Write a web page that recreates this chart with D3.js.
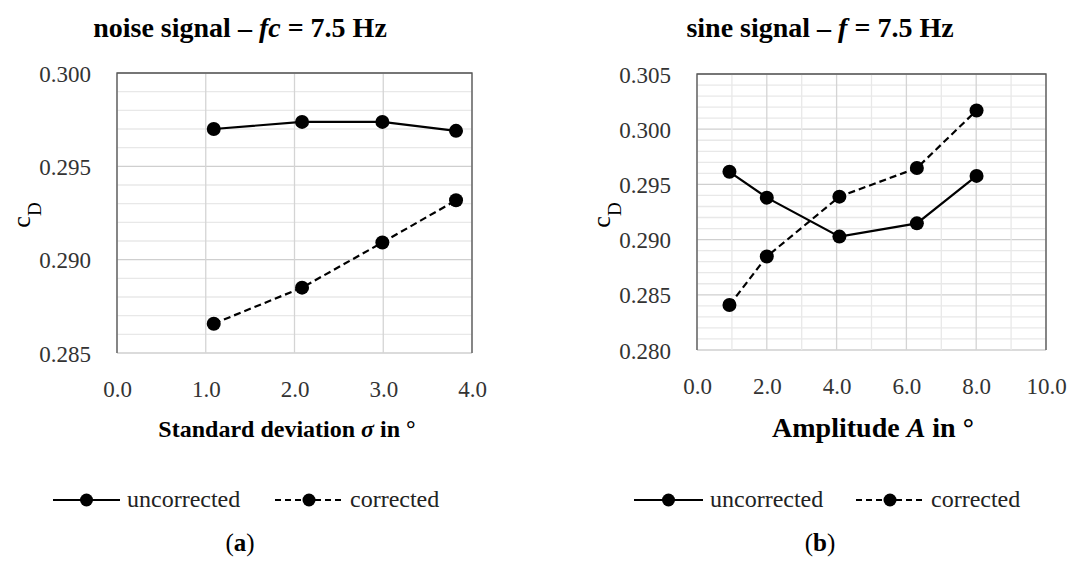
<!DOCTYPE html>
<html><head><meta charset="utf-8">
<script src="https://cdn.jsdelivr.net/npm/d3@7"></script>
<style>body{margin:0;background:#fff} svg{display:block}</style>
</head><body><svg id="c" width="1073" height="571"></svg>
<script>
// ---- data ----
const noiseSigma = [1.09, 2.085, 2.99, 3.82];
const noiseUncorrected = [0.29700, 0.29738, 0.29738, 0.29690];
const noiseCorrected = [0.28657, 0.28850, 0.29092, 0.29318];
const sineAmplitude = [0.93, 2.0, 4.08, 6.30, 8.01];
const sineUncorrected = [0.29614, 0.29380, 0.29027, 0.29147, 0.29577];
const sineCorrected = [0.28407, 0.28847, 0.29389, 0.29648, 0.30170];
const noiseXTicks = [0, 1, 2, 3, 4];
const noiseYTicks = [0.285, 0.290, 0.295, 0.300];
const sineXTicks = [0, 2, 4, 6, 8, 10];
const sineYTicks = [0.280, 0.285, 0.290, 0.295, 0.300, 0.305];
const seriesNames = ["uncorrected", "corrected"];
const panelLabels = ["a", "b"];

const FONT = '"Liberation Serif", "Times New Roman", serif';
const svg = d3.select("#c");

function addRich(sel, parts) {
  parts.forEach(p => {
    const t = sel.append("tspan").text(p[0]);
    if (p[1]) t.attr("font-style", "italic");
    if (p[2]) t.attr("baseline-shift", p[2]).attr("font-size", p[3]);
  });
}

function panel(cfg) {
  const x = d3.scaleLinear().domain(cfg.xDomain).range([cfg.x0, cfg.x1]);
  const y = d3.scaleLinear().domain(cfg.yDomain).range([cfg.y1, cfg.y0]);
  const g = svg.append("g");

  // horizontal grid (every 0.001, major every 0.005)
  const yMinor = d3.range(Math.round(cfg.yDomain[0] * 1000), Math.round(cfg.yDomain[1] * 1000) + 1).map(v => v / 1000);
  g.selectAll(".hmin").data(yMinor).join("line")
    .attr("x1", cfg.x0).attr("x2", cfg.x1)
    .attr("y1", d => y(d)).attr("y2", d => y(d))
    .attr("stroke", d => (Math.round(d * 1000) % 5 === 0) ? "#cfcfcf" : "#e8e8e8")
    .attr("stroke-width", 1.3);
  // vertical grid
  const xGrid = d3.range(cfg.xDomain[0], cfg.xDomain[1] + 0.001, cfg.xMinorStep);
  g.selectAll(".vg").data(xGrid).join("line")
    .attr("x1", d => x(d)).attr("x2", d => x(d))
    .attr("y1", cfg.y0).attr("y2", cfg.y1)
    .attr("stroke", d => (Math.abs(d / cfg.xMajorStep - Math.round(d / cfg.xMajorStep)) < 1e-6) ? "#d4d4d4" : "#e8e8e8")
    .attr("stroke-width", 1.3);
  // border
  g.append("path")
    .attr("d", `M${cfg.x0},${cfg.y1}V${cfg.y0}H${cfg.x1}V${cfg.y1}`)
    .attr("fill", "none").attr("stroke", "#555").attr("stroke-width", 1.3);

  // axes (labels only)
  const ax = g.append("g").attr("transform", `translate(0,${cfg.y1 + 44})`)
    .call(d3.axisBottom(x).tickValues(cfg.xTicks).tickSize(0).tickPadding(0).tickFormat(d3.format(".1f")));
  ax.select(".domain").remove();
  ax.selectAll("text").attr("font-size", 23).attr("fill", "#333").attr("dy", "0").style("font-family", FONT);
  const ay = g.append("g").attr("transform", `translate(${cfg.x0 - 26},0)`)
    .call(d3.axisLeft(y).tickValues(cfg.yTicks).tickSize(0).tickPadding(0).tickFormat(d3.format(".3f")));
  ay.select(".domain").remove();
  ay.selectAll("text").attr("font-size", 23).attr("fill", "#333").attr("dy", "0.35em").style("font-family", FONT);

  // lines and markers
  const line = d3.line().x(d => x(d[0])).y(d => y(d[1]));
  cfg.series.forEach((s, i) => {
    const pts = cfg.xs.map((v, k) => [v, s[k]]);
    g.append("path").datum(pts).attr("d", line).attr("fill", "none")
      .attr("stroke", "#000").attr("stroke-width", 2.2)
      .attr("stroke-dasharray", i === 1 ? "7,4" : null);
    g.selectAll(".m" + i).data(pts).join("circle")
      .attr("cx", d => x(d[0])).attr("cy", d => y(d[1])).attr("r", 7).attr("fill", "#000");
  });

  // chart title
  const t = svg.append("text").attr("x", cfg.titleX).attr("y", 37).attr("text-anchor", "middle")
    .attr("font-size", 28).attr("font-weight", "bold").style("font-family", FONT);
  addRich(t, cfg.title);
  // x axis title
  const xt = svg.append("text").attr("x", cfg.xTitleX).attr("y", 437).attr("text-anchor", "middle")
    .attr("font-size", cfg.xTitleSize).attr("font-weight", "bold").style("font-family", FONT);
  addRich(xt, cfg.xTitle);
  // y axis title
  const yt = svg.append("text").attr("transform", `translate(${cfg.yLabelX},215) rotate(-90)`)
    .attr("text-anchor", "middle").attr("font-size", 26).style("font-family", FONT);
  addRich(yt, [["c", false], ["D", false, "sub", 19]]);

  // legend
  const ly = 500;
  cfg.legend.forEach((L, i) => {
    g.append("line").attr("x1", L[0]).attr("x2", L[1]).attr("y1", ly).attr("y2", ly)
      .attr("stroke", "#000").attr("stroke-width", 2.2).attr("stroke-dasharray", i === 1 ? "6,4" : null);
    g.append("circle").attr("cx", (L[0] + L[1]) / 2).attr("cy", ly).attr("r", 6.5).attr("fill", "#000");
    g.append("text").attr("x", L[1] + 7).attr("y", ly + 7).attr("font-size", 24).attr("fill", "#222")
      .style("font-family", FONT).text(seriesNames[i]);
  });

  // panel label
  const pl = svg.append("text").attr("x", cfg.titleX).attr("y", 551).attr("text-anchor", "middle")
    .attr("font-size", 25).style("font-family", FONT);
  pl.append("tspan").text("(");
  pl.append("tspan").attr("font-weight", "bold").text(cfg.label);
  pl.append("tspan").text(")");
}

panel({
  x0: 117, x1: 472, y0: 73, y1: 353,
  xDomain: [0, 4], yDomain: [0.285, 0.300],
  xTicks: noiseXTicks, yTicks: noiseYTicks, xMinorStep: 1, xMajorStep: 1,
  xs: noiseSigma, series: [noiseUncorrected, noiseCorrected],
  title: [["noise signal – "], ["fc", true], [" = 7.5 Hz"]], titleX: 240,
  xTitle: [["Standard deviation "], ["σ", true], [" in °"]], xTitleSize: 24, xTitleX: 287,
  yLabelX: 30,
  legend: [[53, 120], [275, 343]], label: panelLabels[0]
});
panel({
  x0: 697, x1: 1046, y0: 74, y1: 350,
  xDomain: [0, 10], yDomain: [0.280, 0.305],
  xTicks: sineXTicks, yTicks: sineYTicks, xMinorStep: 1, xMajorStep: 2,
  xs: sineAmplitude, series: [sineUncorrected, sineCorrected],
  title: [["sine signal – "], ["f", true], [" = 7.5 Hz"]], titleX: 820,
  xTitle: [["Amplitude "], ["A", true], [" in °"]], xTitleSize: 28, xTitleX: 873,
  yLabelX: 610,
  legend: [[634, 703], [856, 924]], label: panelLabels[1]
});
</script></body></html>
